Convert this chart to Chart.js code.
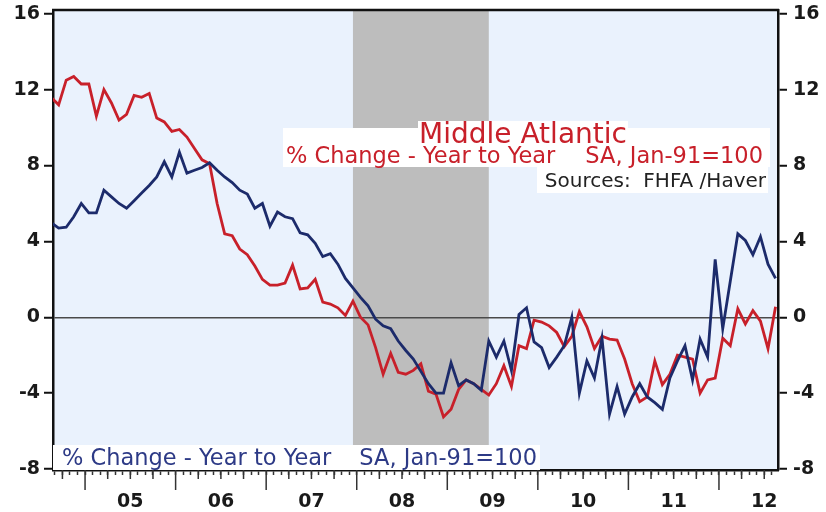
<!DOCTYPE html>
<html lang="en">

<head>
	<meta charset="UTF-8" />
	<title>Middle Atlantic house prices</title>
	<script src="https://cdn.jsdelivr.net/npm/chart.js@4.4.1/dist/chart.umd.min.js"></script>
	<style>
		body { margin: 0; background: #fff; }
		canvas { display: block; }
	</style>
</head>

<body>
	<canvas id="myChart" width="826" height="512"></canvas>

	<script>
		// monthly, Aug 2004 .. Aug 2012
		const months = [
			'2004-08', '2004-09', '2004-10', '2004-11', '2004-12',
			'2005-01', '2005-02', '2005-03', '2005-04', '2005-05', '2005-06', '2005-07', '2005-08', '2005-09', '2005-10', '2005-11', '2005-12',
			'2006-01', '2006-02', '2006-03', '2006-04', '2006-05', '2006-06', '2006-07', '2006-08', '2006-09', '2006-10', '2006-11', '2006-12',
			'2007-01', '2007-02', '2007-03', '2007-04', '2007-05', '2007-06', '2007-07', '2007-08', '2007-09', '2007-10', '2007-11', '2007-12',
			'2008-01', '2008-02', '2008-03', '2008-04', '2008-05', '2008-06', '2008-07', '2008-08', '2008-09', '2008-10', '2008-11', '2008-12',
			'2009-01', '2009-02', '2009-03', '2009-04', '2009-05', '2009-06', '2009-07', '2009-08', '2009-09', '2009-10', '2009-11', '2009-12',
			'2010-01', '2010-02', '2010-03', '2010-04', '2010-05', '2010-06', '2010-07', '2010-08', '2010-09', '2010-10', '2010-11', '2010-12',
			'2011-01', '2011-02', '2011-03', '2011-04', '2011-05', '2011-06', '2011-07', '2011-08', '2011-09', '2011-10', '2011-11', '2011-12',
			'2012-01', '2012-02', '2012-03', '2012-04', '2012-05', '2012-06', '2012-07', '2012-08'
		];

		// red line
		const middleAtlantic = [
			11.6, 11.2, 12.5, 12.7, 12.3,
			12.3, 10.6, 12.0, 11.3, 10.4, 10.7, 11.7, 11.6, 11.8, 10.5, 10.3, 9.8,
			9.9, 9.5, 8.9, 8.3, 8.1, 6.0, 4.4, 4.3, 3.6, 3.3, 2.7, 2.0,
			1.7, 1.7, 1.8, 2.75, 1.5, 1.55, 2.0, 0.8, 0.7, 0.5, 0.1, 0.85,
			0.0, -0.4, -1.6, -3.0, -1.9, -2.9, -3.0, -2.8, -2.45, -3.9, -4.05, -5.25,
			-4.85, -3.8, -3.3, -3.5, -3.8, -4.1, -3.5, -2.55, -3.65, -1.5, -1.65, -0.15,
			-0.25, -0.45, -0.8, -1.55, -1.0, 0.3, -0.5, -1.65, -1.0, -1.15, -1.2, -2.2,
			-3.5, -4.45, -4.2, -2.3, -3.55, -3.0, -2.0, -2.1, -2.2, -4.0, -3.3, -3.2,
			-1.1, -1.5, 0.45, -0.35, 0.35, -0.2, -1.65, 0.55
		];

		// navy line
		const national = [
			5.0, 4.7, 4.75, 5.3, 6.0,
			5.5, 5.5, 6.7, 6.35, 6.0, 5.75, 6.15, 6.55, 6.95, 7.4, 8.2, 7.4,
			8.7, 7.6, 7.75, 7.9, 8.15, 7.75, 7.4, 7.1, 6.7, 6.5, 5.75, 6.0,
			4.8, 5.55, 5.3, 5.2, 4.45, 4.35, 3.9, 3.2, 3.35, 2.8, 2.05, 1.55,
			1.05, 0.6, -0.1, -0.45, -0.6, -1.25, -1.75, -2.2, -2.85, -3.5, -4.0, -4.0,
			-2.4, -3.6, -3.3, -3.5, -3.85, -1.25, -2.1, -1.25, -2.8, 0.15, 0.5, -1.3,
			-1.6, -2.65, -2.1, -1.5, 0.0, -4.0, -2.3, -3.2, -1.1, -5.1, -3.65, -5.1,
			-4.2, -3.5, -4.2, -4.5, -4.85, -3.2, -2.3, -1.5, -3.3, -1.15, -2.1, 3.05,
			-0.6, 1.9, 4.4, 4.05, 3.3, 4.25, 2.8, 2.05
		];

		const yTicks = [-8, -4, 0, 4, 8, 12, 16];
		const labelYears = [2005, 2006, 2007, 2008, 2009, 2010, 2011, 2012];
		const yearLabels = ['05', '06', '07', '08', '09', '10', '11', '12'];
		const recession = ['2007-12', '2009-06'];

		const RED = '#c8202a';
		const NAVY = '#1c2b6b';
		const tickFont = { family: 'DejaVu Sans', size: 19, weight: 'bold' };

		// mid-month as decimal year
		function toYear(m) {
			const [y, mo] = m.split('-').map(Number);
			return y + (mo - 0.5) / 12;
		}

		const backdrop = {
			id: 'backdrop',
			beforeDraw(chart) {
				const { ctx, chartArea: a, scales: { x } } = chart;
				ctx.save();
				ctx.fillStyle = '#eaf2fd';
				ctx.fillRect(a.left, a.top, a.width, a.height);
				const x0 = x.getPixelForValue(toYear(recession[0]));
				const x1 = x.getPixelForValue(toYear(recession[1]));
				ctx.fillStyle = '#bdbdbd';
				ctx.fillRect(x0, a.top, x1 - x0, a.height);
				ctx.restore();
			}
		};

		function box(ctx, l, t, r, b) {
			ctx.fillStyle = '#fff';
			ctx.fillRect(l, t, r - l, b - t);
		}

		const notes = {
			id: 'notes',
			afterDatasetsDraw(chart) {
				const { ctx, chartArea: a } = chart;
				ctx.save();
				ctx.textBaseline = 'alphabetic';
				// top right annotation
				box(ctx, 418, 121, 628, 130);
				box(ctx, 283, 128, 770, 167);
				box(ctx, 537, 167, 768, 193);
				ctx.fillStyle = RED;
				ctx.font = '28px "DejaVu Sans"';
				ctx.textAlign = 'center';
				ctx.fillText('Middle Atlantic', 523, 143);
				ctx.font = '22.5px "DejaVu Sans"';
				ctx.textAlign = 'left';
				ctx.fillText('% Change - Year to Year', 286, 163);
				ctx.textAlign = 'right';
				ctx.fillText('SA, Jan-91=100', 763, 163);
				ctx.fillStyle = '#222';
				ctx.font = '20px "DejaVu Sans"';
				ctx.fillText('Sources:  FHFA /Haver', 766, 187);
				// bottom left annotation
				box(ctx, a.left, 445, 540, a.bottom);
				ctx.fillStyle = '#2d3a86';
				ctx.font = '22.5px "DejaVu Sans"';
				ctx.textAlign = 'left';
				ctx.fillText('% Change - Year to Year', 62, 465);
				ctx.textAlign = 'right';
				ctx.fillText('SA, Jan-91=100', 537, 465);
				ctx.restore();
			},
			afterDraw(chart) {
				const { ctx, chartArea: a, scales: { x } } = chart;
				ctx.save();
				ctx.strokeStyle = '#111';
				ctx.lineWidth = 2.5;
				ctx.beginPath();
				ctx.moveTo(a.left - 1, a.top);
				ctx.lineTo(a.right + 1, a.top);
				ctx.stroke();
				// quarter and year ticks under the axis
				ctx.lineWidth = 1.5;
				ctx.strokeStyle = '#333';
				for (let k = Math.ceil(x.min * 4); k <= Math.floor(x.max * 4); k++) {
					const px = x.getPixelForValue(k / 4);
					const len = k % 4 === 0 ? 20 : 9;
					ctx.beginPath();
					ctx.moveTo(px, a.bottom);
					ctx.lineTo(px, a.bottom + len);
					ctx.stroke();
				}
				ctx.restore();
			}
		};

		const yAxis = (pos, width) => ({
			position: pos,
			min: -8.05,
			max: 16.2,
			afterBuildTicks(s) { s.ticks = yTicks.map(v => ({ value: v })); },
			afterFit(s) {
				s.width = width;
				s.paddingTop = 0;
				s.paddingBottom = 0;
			},
			grid: {
				drawOnChartArea: pos === 'left',
				color: c => (c.tick && c.tick.value === 0 ? '#4a4a4a' : 'rgba(0,0,0,0)'),
				lineWidth: 1.5,
				tickLength: 9,
				tickColor: '#111',
				tickWidth: 2
			},
			border: { color: '#111', width: 2.5 },
			ticks: { padding: pos === 'left' ? 4 : 6, font: tickFont, color: '#1a1a1a' }
		});

		const ctx = document.getElementById('myChart').getContext('2d');
		const myChart = new Chart(ctx, {
			type: 'line',
			data: {
				datasets: [{
						label: 'National',
						data: months.map((m, i) => ({ x: toYear(m), y: national[i] })),
						borderColor: NAVY,
						borderWidth: 2.8,
						pointRadius: 0,
						fill: false
					},
					{
						label: 'Middle Atlantic',
						data: months.map((m, i) => ({ x: toYear(m), y: middleAtlantic[i] })),
						borderColor: RED,
						borderWidth: 2.8,
						pointRadius: 0,
						fill: false
					}
				]
			},
			options: {
				responsive: false,
				animation: false,
				layout: { padding: { top: 10, left: 0, right: 0, bottom: 0 } },
				plugins: { legend: { display: false }, tooltip: { enabled: false } },
				scales: {
					x: {
						type: 'linear',
						position: 'bottom',
						min: 2004.646,
						max: 2012.652,
						afterBuildTicks(s) {
							const t = [];
							for (let k = Math.ceil(s.min * 12); k <= Math.floor(s.max * 12); k++) t.push({ value: k / 12 });
							s.ticks = t;
						},
						afterFit(s) { s.height = 42; },
						grid: { drawOnChartArea: false, tickLength: 5, tickColor: '#333', tickWidth: 1.5 },
						border: { color: '#111', width: 2.5 },
						ticks: {
							autoSkip: false,
							maxRotation: 0,
							padding: 16,
							font: tickFont,
							color: '#1a1a1a',
							callback(v) {
								const k = Math.round(v * 12);
								if (k % 12 !== 6) return '';
								const i = labelYears.indexOf(Math.floor(k / 12));
								return i < 0 ? '' : yearLabels[i];
							}
						}
					},
					y: yAxis('left', 53),
					y2: yAxis('right', 48)
				}
			},
			plugins: [backdrop, notes]
		});
	</script>
</body>

</html>
